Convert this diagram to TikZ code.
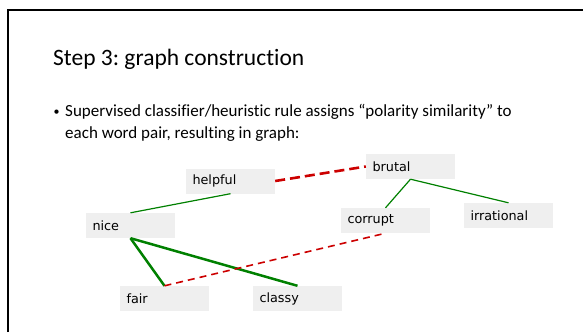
\documentclass[tikz,border=0pt]{standalone}
\usepackage{fontspec}
\setmainfont{Carlito}[Ligatures=NoCommon]
\newfontfamily\wordfont{DejaVu Sans}
\usetikzlibrary{positioning}
\frenchspacing
\definecolor{boxgray}{HTML}{EFEFEF}
\definecolor{posgreen}{HTML}{008000}
\definecolor{negred}{HTML}{CC0000}
\tikzset{
  word/.style={fill=boxgray,minimum width=89pt,minimum height=25pt,text width=76pt,
    inner xsep=6.5pt,inner ysep=0pt,align=left,font=\wordfont\fontsize{12.8}{14}\selectfont},
  same/.style={posgreen,line width=1.2pt},
  samestrong/.style={posgreen,line width=2.5pt},
  opposite/.style={negred,line width=1.6pt,dash pattern=on 7pt off 5pt},
  oppositestrong/.style={negred,line width=2.6pt,dash pattern=on 10pt off 5pt},
  bodytext/.style={anchor=base west,inner sep=0pt,font=\fontsize{17}{20}\selectfont}
}

\begin{document}
\begin{tikzpicture}[x=1pt,y=-1pt]
    \useasboundingbox (0,0) rectangle (583,332);
    \draw[line width=2.5pt] (8,332) -- (8,10) -- (583,10);
    % heading and bullet
    \node[anchor=base west,inner sep=0pt,font=\fontsize{23.5}{28}\selectfont] (title) at (53,65) {Step 3: graph construction};
    \node[bodytext,font=\fontsize{12}{14}\selectfont] (dot) at (53.5,115) {•};
    \node[bodytext] (line1) at (65,116) {Supervised classifier/heuristic rule assigns “polarity similarity” to};
    \node[bodytext] (line2) at (65,138) {each word pair, resulting in graph:};
    % word graph
    \node[word] (helpful) at (230.5,181) {helpful};
    \node[word] (nice) at (130.5,225.5) {nice};
    \node[word] (fair) at (164.5,298.5) {fair};
    \node[word] (classy) at (297.5,298.5) {classy};
    \node[word] (brutal) at (410.5,166.5) {brutal};
    \node[word] (corrupt) at (385.5,220.5) {corrupt};
    \node[word] (irrational) at (508.5,215.5) {irrational};
    \draw[same] (helpful.south) -- (nice.north);
    \draw[oppositestrong] (helpful.east) -- (brutal.west);
    \draw[samestrong] (nice.south) -- (fair.north);
    \draw[samestrong] (nice.south) -- (classy.north);
    \draw[opposite] (fair.north) -- (corrupt.south);
    \draw[same] (brutal.south) -- (corrupt.north);
    \draw[same] (brutal.south) -- (irrational.north);
\end{tikzpicture}
\end{document}
